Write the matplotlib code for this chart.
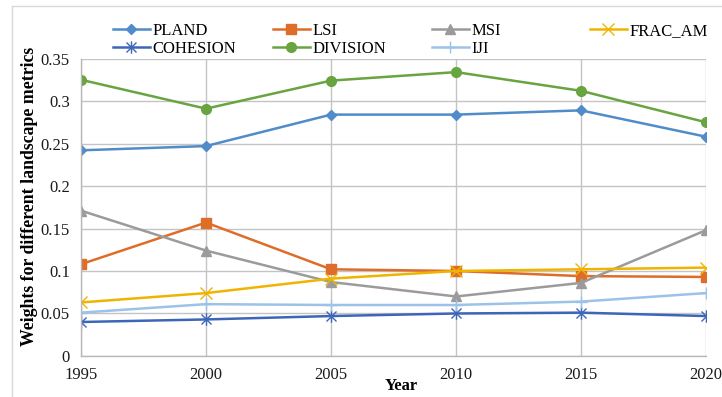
import matplotlib
matplotlib.use("Agg")
import matplotlib.pyplot as plt
from matplotlib.path import Path
from matplotlib.lines import Line2D

# Data
years = [1995, 2000, 2005, 2010, 2015, 2020]
pland = [0.242, 0.247, 0.284, 0.284, 0.289, 0.258]
lsi = [0.108, 0.157, 0.102, 0.100, 0.094, 0.093]
msi = [0.171, 0.124, 0.087, 0.070, 0.086, 0.148]
frac_am = [0.063, 0.074, 0.091, 0.100, 0.102, 0.104]
cohesion = [0.040, 0.043, 0.047, 0.050, 0.051, 0.047]
division = [0.325, 0.291, 0.324, 0.334, 0.312, 0.275]
iji = [0.051, 0.061, 0.060, 0.060, 0.064, 0.074]
y_ticks = [0, 0.05, 0.1, 0.15, 0.2, 0.25, 0.3, 0.35]
y_tick_labels = ["0", "0.05", "0.1", "0.15", "0.2", "0.25", "0.3", "0.35"]

plt.rcParams["font.family"] = ["Liberation Serif", "DejaVu Serif"]

# Asterisk-style marker: vertical bar plus two diagonals
star_path = Path(
    [(0, -1), (0, 1), (-0.8, -0.8), (0.8, 0.8), (-0.8, 0.8), (0.8, -0.8)],
    [Path.MOVETO, Path.LINETO, Path.MOVETO, Path.LINETO, Path.MOVETO, Path.LINETO],
)

fig = plt.figure(figsize=(7.22, 3.97), dpi=100)
ax = fig.add_axes([0.1122, 0.1033, 0.8656, 0.7493])

lw = 1.8
series = [
    ("PLAND", pland, "#4f8cc9", dict(marker="D", ms=5.5)),
    ("LSI", lsi, "#de6d2a", dict(marker="s", ms=7)),
    ("MSI", msi, "#9b9b9b", dict(marker="^", ms=7)),
    ("FRAC_AM", frac_am, "#f0b400", dict(marker="x", ms=8, mew=1.0)),
    ("COHESION", cohesion, "#3d66b8", dict(marker=star_path, ms=9, mew=1.0)),
    ("DIVISION", division, "#68a43f", dict(marker="o", ms=7)),
    ("IJI", iji, "#9cc2e8", dict(marker="+", ms=9, mew=1.0)),
]

handles = {}
for name, vals, color, mk in series:
    (h,) = ax.plot(years, vals, color=color, lw=lw, label=name,
                   markerfacecolor=color, markeredgecolor=color, **mk)
    handles[name] = h

ax.set_xlim(1995, 2020)
ax.set_ylim(0, 0.35)
ax.set_xticks(years)
ax.set_xticklabels([str(y) for y in years])
ax.set_yticks(y_ticks)
ax.set_yticklabels(y_tick_labels)
ax.tick_params(axis="both", length=0, labelsize=12, colors="#1a1a1a")
ax.tick_params(axis="x", pad=8)
ax.tick_params(axis="y", pad=8)

ax.grid(True, color="#c4c4c4", lw=1.0)
ax.set_axisbelow(True)
for side in ["top", "right"]:
    ax.spines[side].set_visible(False)
for side in ["left", "bottom"]:
    ax.spines[side].set_color("#b8b8b8")
    ax.spines[side].set_linewidth(1.0)

ax.set_ylabel("Weights for different landscape metrics", fontsize=12.8,
              fontweight="bold")
ax.yaxis.set_label_coords(-0.069, 0.535)
fig.text(401 / 722, 1 - 386 / 397, "Year", fontsize=12, fontweight="bold",
         ha="center", va="center")

# Legend in four columns of two rows
columns = [["PLAND", "COHESION"], ["LSI", "DIVISION"], ["MSI", "IJI"], ["FRAC_AM"]]
col_x = [113, 273, 432, 590]
for names, x in zip(columns, col_x):
    fig.legend([handles[n] for n in names], names, loc="upper left",
               bbox_to_anchor=(x / 722, 1 - 23 / 397), frameon=False,
               fontsize=12, handlelength=2.2, handletextpad=0.15,
               borderpad=0, borderaxespad=0, labelspacing=0.1)

# Outer chart border (left and top edges)
fig.add_artist(Line2D([12 / 722, 12 / 722], [0, 1 - 6 / 397],
                      transform=fig.transFigure, color="#d9d9d9", lw=1.0))
fig.add_artist(Line2D([12 / 722, 1], [1 - 6 / 397, 1 - 6 / 397],
                      transform=fig.transFigure, color="#d9d9d9", lw=1.0))

fig.savefig("out.png", dpi=100)
